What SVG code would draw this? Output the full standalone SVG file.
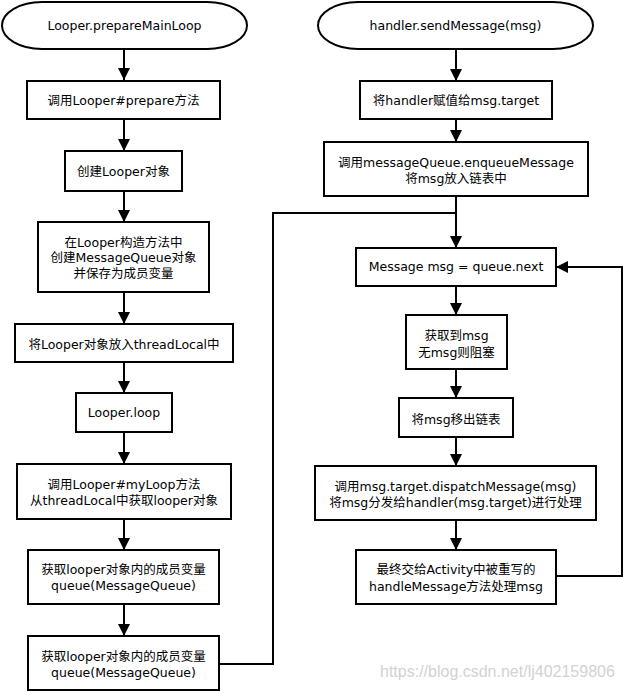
<svg xmlns="http://www.w3.org/2000/svg" width="623" height="691" viewBox="0 0 623 691">
<style>
.n{fill:#fff;stroke:#000;stroke-width:2}
.t{font-family:"DejaVu Sans","Noto Sans CJK SC",sans-serif;font-size:12.5px;fill:#000;text-anchor:middle;dominant-baseline:central}
.c{fill:none;stroke:#000;stroke-width:2}
.wm{font-family:"Liberation Sans",Arial,sans-serif;font-size:16px;fill:#d2d2d2}
</style>
<defs>
<marker id="ah" viewBox="0 0 12 12" refX="12" refY="6" markerWidth="12" markerHeight="12" markerUnits="userSpaceOnUse" orient="auto">
<path d="M0,0 L12,6 L0,12 z" fill="#000"/>
</marker>
</defs>
<rect width="623" height="691" fill="#fff"/>
<g id="connectors">
<path class="c" d="M124,49 V80" marker-end="url(#ah)"/>
<path class="c" d="M124,119 V151" marker-end="url(#ah)"/>
<path class="c" d="M124,191 V222" marker-end="url(#ah)"/>
<path class="c" d="M124,292 V324" marker-end="url(#ah)"/>
<path class="c" d="M124,362 V393" marker-end="url(#ah)"/>
<path class="c" d="M124,432 V464" marker-end="url(#ah)"/>
<path class="c" d="M124,519 V550" marker-end="url(#ah)"/>
<path class="c" d="M124,604 V636" marker-end="url(#ah)"/>
<path class="c" d="M219,664 H273 V213 H456"/>
<path class="c" d="M456,49 V81" marker-end="url(#ah)"/>
<path class="c" d="M456,119 V142" marker-end="url(#ah)"/>
<path class="c" d="M456,196 V248" marker-end="url(#ah)"/>
<path class="c" d="M456,286 V315" marker-end="url(#ah)"/>
<path class="c" d="M456,369 V398" marker-end="url(#ah)"/>
<path class="c" d="M456,437 V466" marker-end="url(#ah)"/>
<path class="c" d="M456,520 V550" marker-end="url(#ah)"/>
<path class="c" d="M556,576 H622 V267 H556" marker-end="url(#ah)"/>
</g>
<g id="start1"><rect class="n" x="2" y="2" width="245" height="47" rx="40" ry="23.5"/><text class="t" x="124.5" y="25.5">Looper.prepareMainLoop</text></g>
<g id="l1"><rect class="n" x="27" y="81" width="193" height="38"/><text class="t" x="123.5" y="100">调用Looper#prepare方法</text></g>
<g id="l2"><rect class="n" x="65" y="151" width="117" height="40"/><text class="t" x="123.5" y="171">创建Looper对象</text></g>
<g id="l3"><rect class="n" x="38" y="222" width="171" height="70"/><text class="t" x="123.5" y="242">在Looper构造方法中</text><text class="t" x="123.5" y="257.5">创建MessageQueue对象</text><text class="t" x="123.5" y="273">并保存为成员变量</text></g>
<g id="l4"><rect class="n" x="15" y="324" width="218" height="38"/><text class="t" x="124" y="344">将Looper对象放入threadLocal中</text></g>
<g id="l5"><rect class="n" x="76" y="393" width="96" height="39"/><text class="t" x="124" y="412.5">Looper.loop</text></g>
<g id="l6"><rect class="n" x="17" y="464" width="214" height="55"/><text class="t" x="124" y="484">调用Looper#myLoop方法</text><text class="t" x="124" y="500.5">从threadLocal中获取looper对象</text></g>
<g id="l7"><rect class="n" x="28" y="550" width="191" height="54"/><text class="t" x="123.5" y="569">获取looper对象内的成员变量</text><text class="t" x="123.5" y="585.5">queue(MessageQueue)</text></g>
<g id="l8"><rect class="n" x="28" y="636" width="191" height="54"/><text class="t" x="123.5" y="656">获取looper对象内的成员变量</text><text class="t" x="123.5" y="672.5">queue(MessageQueue)</text></g>
<g id="start2"><rect class="n" x="318" y="2" width="275" height="47" rx="40" ry="23.5"/><text class="t" x="455.5" y="25.5">handler.sendMessage(msg)</text></g>
<g id="r1"><rect class="n" x="360" y="81" width="192" height="38"/><text class="t" x="456" y="100.5">将handler赋值给msg.target</text></g>
<g id="r2"><rect class="n" x="324" y="142" width="264" height="54"/><text class="t" x="456" y="162">调用messageQueue.enqueueMessage</text><text class="t" x="456" y="178">将msg放入链表中</text></g>
<g id="r3"><rect class="n" x="356" y="248" width="200" height="38"/><text class="t" x="456" y="266.5">Message msg = queue.next</text></g>
<g id="r4"><rect class="n" x="406" y="315" width="101" height="54"/><text class="t" x="456.5" y="335">获取到msg</text><text class="t" x="456.5" y="352">无msg则阻塞</text></g>
<g id="r5"><rect class="n" x="399" y="398" width="114" height="39"/><text class="t" x="456" y="419">将msg移出链表</text></g>
<g id="r6"><rect class="n" x="315" y="466" width="281" height="54"/><text class="t" x="455.5" y="486">调用msg.target.dispatchMessage(msg)</text><text class="t" x="455.5" y="502.5">将msg分发给handler(msg.target)进行处理</text></g>
<g id="r7"><rect class="n" x="356" y="550" width="200" height="54"/><text class="t" x="456" y="569.5">最终交给Activity中被重写的</text><text class="t" x="456" y="586">handleMessage方法处理msg</text></g>
<text class="wm" x="380" y="677">https://blog.csdn.net/lj402159806</text>
</svg>
